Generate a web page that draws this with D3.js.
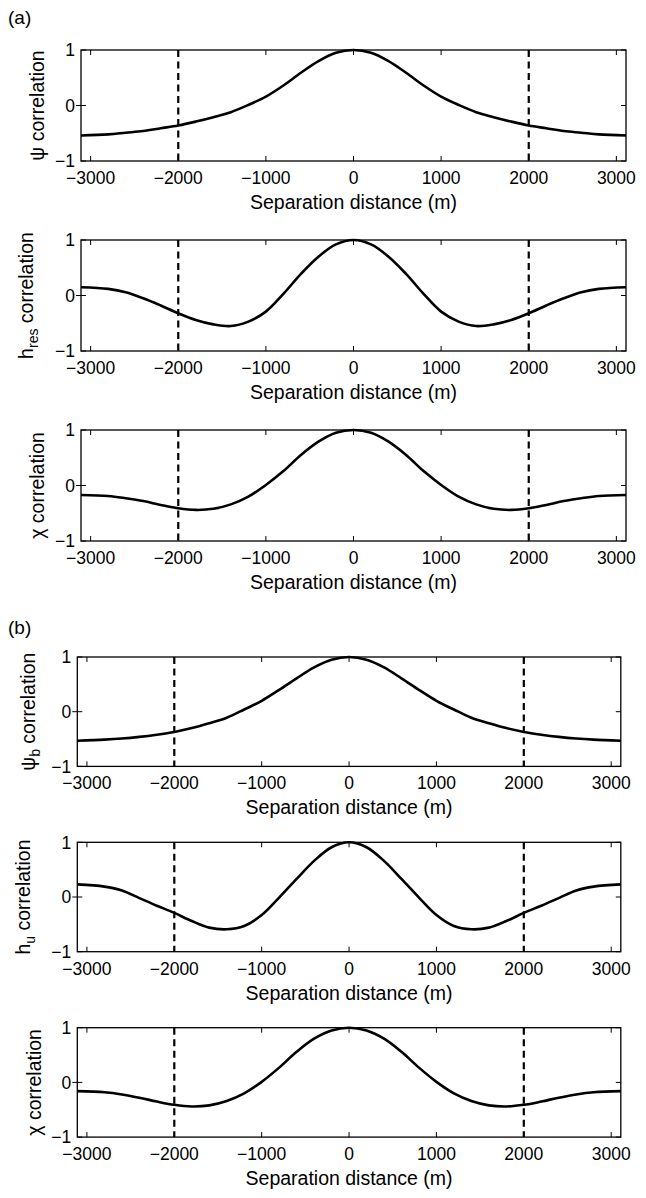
<!DOCTYPE html>
<html><head><meta charset="utf-8">
<script src="https://cdn.jsdelivr.net/npm/d3@7"></script>
<style>
html,body{margin:0;padding:0;background:#fff;}
svg{display:block;font-family:"Liberation Sans",Arial,Helvetica,sans-serif;}
</style></head>
<body>
<svg id="chart" width="646" height="1198"></svg>
<script>
// ---------- data ----------
const xDomain = [-3110, 3110];
const xTicks = [-3000, -2000, -1000, 0, 1000, 2000, 3000];
const yTicks = [-1, 0, 1];
const dashedAt = [-2000, 2000];
const sepX = [-3110,-2800,-2600,-2400,-2200,-2000,-1800,-1600,-1400,-1200,-1000,-800,-600,-400,-200,0,
              200,400,600,800,1000,1200,1400,1600,1800,2000,2200,2400,2600,2800,3110];
const psiA  = [-0.54,-0.52,-0.49,-0.46,-0.41,-0.36,-0.29,-0.21,-0.12,0.01,0.16,0.36,0.59,0.80,0.95,1.00,
               0.95,0.80,0.59,0.36,0.16,0.01,-0.12,-0.21,-0.29,-0.36,-0.41,-0.46,-0.49,-0.52,-0.54];
const hresA = [0.15,0.12,0.06,-0.05,-0.18,-0.32,-0.44,-0.52,-0.55,-0.47,-0.29,0.03,0.39,0.70,0.92,1.00,
               0.92,0.70,0.39,0.03,-0.29,-0.47,-0.55,-0.52,-0.44,-0.32,-0.18,-0.05,0.06,0.12,0.15];
const chiA  = [-0.17,-0.19,-0.23,-0.28,-0.35,-0.41,-0.44,-0.42,-0.34,-0.20,0.01,0.26,0.55,0.79,0.95,1.00,
               0.95,0.79,0.55,0.26,0.01,-0.20,-0.34,-0.42,-0.44,-0.41,-0.35,-0.28,-0.23,-0.19,-0.17];
const psiB  = [-0.53,-0.51,-0.49,-0.46,-0.42,-0.37,-0.30,-0.21,-0.11,0.04,0.20,0.40,0.61,0.81,0.95,1.00,
               0.95,0.81,0.61,0.40,0.20,0.04,-0.11,-0.21,-0.30,-0.37,-0.42,-0.46,-0.49,-0.51,-0.53];
const huB   = [0.23,0.19,0.12,-0.02,-0.16,-0.29,-0.44,-0.56,-0.59,-0.53,-0.33,-0.01,0.33,0.66,0.91,1.00,
               0.91,0.66,0.33,-0.01,-0.33,-0.53,-0.59,-0.56,-0.44,-0.29,-0.16,-0.02,0.12,0.19,0.23];
const chiB  = [-0.16,-0.18,-0.22,-0.28,-0.35,-0.41,-0.44,-0.42,-0.34,-0.20,0.01,0.27,0.56,0.80,0.95,1.00,
               0.95,0.80,0.56,0.27,0.01,-0.20,-0.34,-0.42,-0.44,-0.41,-0.35,-0.28,-0.22,-0.18,-0.16];
const xLabel = "Separation distance (m)";
const panelLabels = ["(a)", "(b)"];
const yLabels = [
  [{t:"\u03c8"},{t:" correlation"}],
  [{t:"h"},{t:"res",sub:true},{t:" correlation"}],
  [{t:"\u03c7"},{t:" correlation"}],
  [{t:"\u03c8"},{t:"b",sub:true},{t:" correlation"}],
  [{t:"h"},{t:"u",sub:true},{t:" correlation"}],
  [{t:"\u03c7"},{t:" correlation"}]
];
const seriesList = [psiA, hresA, chiA, psiB, huB, chiB];

// ---------- layout ----------
const layout = [
  {top:50,   h:111,   left:81,   right:626,   ylx:44},
  {top:240,  h:111,   left:81,   right:626,   ylx:33},
  {top:430,  h:111,   left:81,   right:626,   ylx:44},
  {top:657,  h:109.4, left:77.3, right:620.8, ylx:35},
  {top:842.3,h:109.4, left:77.3, right:620.8, ylx:30},
  {top:1027.7,h:109.4,left:77.3, right:620.8, ylx:41}
];

const svg = d3.select("#chart");
const tickFont = 17.5, labFont = 19.5;

svg.append("text").attr("x", 8).attr("y", 24).attr("font-size", 19).text(panelLabels[0]);
svg.append("text").attr("x", 8).attr("y", 634).attr("font-size", 19).text(panelLabels[1]);

layout.forEach((L, i) => {
  const x = d3.scaleLinear().domain(xDomain).range([L.left, L.right]);
  const y = d3.scaleLinear().domain([-1, 1]).range([L.top + L.h, L.top]);
  const g = svg.append("g");
  const bottom = L.top + L.h;

  // dashed verticals
  g.selectAll(".dash").data(dashedAt).enter().append("line")
    .attr("x1", d => x(d)).attr("x2", d => x(d))
    .attr("y1", L.top).attr("y2", bottom)
    .attr("stroke", "#000").attr("stroke-width", 2.2).attr("stroke-dasharray", "7,4.5");

  // curve
  const pts = sepX.map((d, k) => [d, seriesList[i][k]]);
  g.append("path").datum(pts)
    .attr("d", d3.line().x(d => x(d[0])).y(d => y(d[1])).curve(d3.curveCatmullRom.alpha(0.5)))
    .attr("fill", "none").attr("stroke", "#000").attr("stroke-width", 2.6);

  // x ticks (inward, top and bottom)
  xTicks.forEach(t => {
    g.append("line").attr("x1", x(t)).attr("x2", x(t)).attr("y1", bottom).attr("y2", bottom - 5)
      .attr("stroke", "#000").attr("stroke-width", 1);
    g.append("line").attr("x1", x(t)).attr("x2", x(t)).attr("y1", L.top).attr("y2", L.top + 5)
      .attr("stroke", "#000").attr("stroke-width", 1);
  });
  // y ticks
  yTicks.forEach(t => {
    g.append("line").attr("x1", L.left - (t === 0 ? 5 : 0)).attr("x2", L.left + 5).attr("y1", y(t)).attr("y2", y(t))
      .attr("stroke", "#000").attr("stroke-width", 1);
    g.append("line").attr("x1", L.right).attr("x2", L.right - 5).attr("y1", y(t)).attr("y2", y(t))
      .attr("stroke", "#000").attr("stroke-width", 1);
  });

  // box
  g.append("rect").attr("x", L.left).attr("y", L.top).attr("width", L.right - L.left).attr("height", L.h)
    .attr("fill", "none").attr("stroke", "#000").attr("stroke-width", 1.3);

  // tick labels
  g.selectAll(".xt").data(xTicks).enter().append("text")
    .attr("x", d => x(d)).attr("y", bottom + 23).attr("text-anchor", "middle")
    .attr("font-size", tickFont).text(d => d < 0 ? "\u2212" + Math.abs(d) : String(d));
  g.selectAll(".yt").data(yTicks).enter().append("text")
    .attr("x", L.left - 6).attr("y", d => y(d)).attr("dy", "0.36em").attr("text-anchor", "end")
    .attr("font-size", tickFont).text(d => d < 0 ? "\u2212" + Math.abs(d) : String(d));

  // x label
  g.append("text").attr("x", (L.left + L.right) / 2).attr("y", bottom + 48).attr("text-anchor", "middle")
    .attr("font-size", labFont).text(xLabel);

  // y label
  const yl = g.append("text")
    .attr("transform", `translate(${L.ylx},${L.top + L.h / 2}) rotate(-90)`)
    .attr("text-anchor", "middle").attr("font-size", labFont);
  yLabels[i].forEach((p, k) => {
    const prevSub = k > 0 && yLabels[i][k - 1].sub;
    const ts = yl.append("tspan").text(p.t);
    if (p.sub) ts.attr("dy", 5).attr("font-size", 14);
    else if (prevSub) ts.attr("dy", -5);
  });
});
</script>
</body></html>
